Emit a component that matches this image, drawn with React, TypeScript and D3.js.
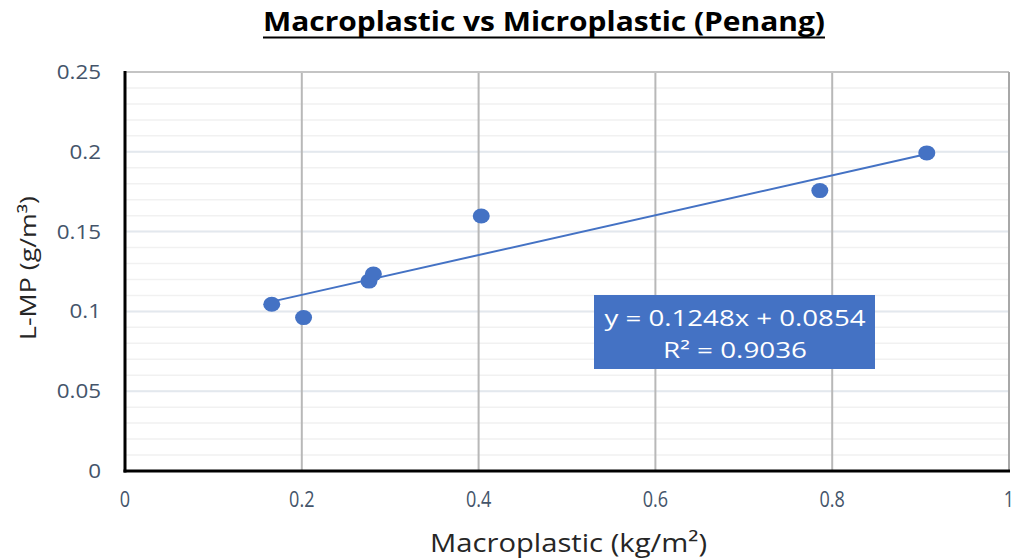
import React from 'react'
import * as d3 from 'd3'

// measured points (macroplastic kg/m², L-MP g/m³)
const macro = [0.166, 0.202, 0.276, 0.281, 0.403, 0.786, 0.907]
const lmp = [0.1045, 0.0961, 0.119, 0.1234, 0.1598, 0.1757, 0.1993]
const xTicks = [0, 0.2, 0.4, 0.6, 0.8, 1]
const yTicks = [0, 0.05, 0.1, 0.15, 0.2, 0.25]
const slope = 0.1248
const intercept = 0.0854
const eqLines = ['y = 0.1248x + 0.0854', 'R² = 0.9036']
const eqWidths = [261, 144]

const W = 1017
const H = 558
const font = '"Open Sans", Lato, sans-serif'

const App = () => {
    const x = d3.scaleLinear().domain([0, 1]).range([125, 1009])
    const y = d3.scaleLinear().domain([0, 0.25]).range([471, 72])

    const minorY = d3.range(0, 26).map(i => i / 100)
    const xMin = d3.min(macro) as number
    const xMax = d3.max(macro) as number
    const trend = d3.line<number>()
        .x(v => x(v))
        .y(v => y(slope * v + intercept))([xMin, xMax])

    return (
        <svg width={W} height={H} style={{ position: 'absolute', left: 0, top: 0, background: '#fff' }}>
            <rect width={W} height={H} fill='#fff' />
            {/* title */}
            <text x={263} y={31} textLength={562} lengthAdjust='spacingAndGlyphs' fontFamily={font} fontWeight={700} fontSize={26} fill='#000'>
                Macroplastic vs Microplastic (Penang)
            </text>
            <line x1={263} x2={825} y1={37.5} y2={37.5} stroke='#000' strokeWidth={2} />

            {/* minor horizontal grid */}
            {minorY.map((v, i) => (
                <line key={'m' + i} x1={x(0)} x2={x(1)} y1={y(v)} y2={y(v)} stroke='#f1f1f1' strokeWidth={1.5} />
            ))}
            {/* major horizontal grid */}
            {yTicks.map((v, i) => (
                <line key={'h' + i} x1={x(0)} x2={x(1)} y1={y(v)} y2={y(v)} stroke='#e3e8ee' strokeWidth={2} />
            ))}
            {/* vertical grid */}
            {xTicks.slice(1, -1).map((v, i) => (
                <line key={'v' + i} x1={x(v)} x2={x(v)} y1={y(0.25)} y2={y(0)} stroke='#b8b8b8' strokeWidth={2} />
            ))}
            {/* plot frame */}
            <line x1={x(0)} x2={x(1)} y1={y(0.25)} y2={y(0.25)} stroke='#c4c4c4' strokeWidth={2} />
            <line x1={x(1)} x2={x(1)} y1={y(0.25)} y2={y(0)} stroke='#a8a8a8' strokeWidth={2} />
            <line x1={x(0)} x2={x(0)} y1={y(0.25) - 1} y2={y(0) + 1.5} stroke='#000' strokeWidth={3} />
            <line x1={x(0) - 1.5} x2={x(1) + 1} y1={y(0)} y2={y(0)} stroke='#000' strokeWidth={3} />

            {/* y ticks */}
            {yTicks.map((v, i) => (
                <g key={'yt' + i} transform={`translate(101, ${y(v) + 7}) scale(1.12, 1)`}>
                    <text textAnchor='end' fontFamily={font} fontSize={20} fill='#44546a'>
                        {d3.format('')(v)}
                    </text>
                </g>
            ))}
            {/* x ticks */}
            {xTicks.map((v, i) => (
                <g key={'xt' + i} transform={`translate(${x(v)}, 507) scale(0.95, 1.15)`}>
                    <text textAnchor='middle' fontFamily={font} fontSize={19} fill='#44546a'>
                        {d3.format('')(v)}
                    </text>
                </g>
            ))}

            {/* axis titles */}
            <text x={430} y={552} textLength={277} lengthAdjust='spacingAndGlyphs' fontFamily={font} fontSize={25} fill='#262626'>
                Macroplastic (kg/m²)
            </text>
            <text transform='translate(36, 340) rotate(-90)' textLength={144} lengthAdjust='spacingAndGlyphs' fontFamily={font} fontSize={22} fill='#262626'>
                L-MP (g/m³)
            </text>

            {/* trendline */}
            <path d={trend || ''} fill='none' stroke='#4472c4' strokeWidth={2} />

            {/* points */}
            {macro.map((v, i) => (
                <ellipse key={'p' + i} cx={x(v)} cy={y(lmp[i])} rx={8.5} ry={7.5} fill='#4472c4' />
            ))}

            {/* equation label */}
            <rect x={594} y={295} width={281} height={74} fill='#4472c4' />
            {eqLines.map((t, i) => (
                <text key={'eq' + i} x={735 - eqWidths[i] / 2} y={326 + i * 32} textLength={eqWidths[i]} lengthAdjust='spacingAndGlyphs'
                    fontFamily={font} fontSize={22} fill='#fff'>
                    {t}
                </text>
            ))}
        </svg>
    )
}

export default App
